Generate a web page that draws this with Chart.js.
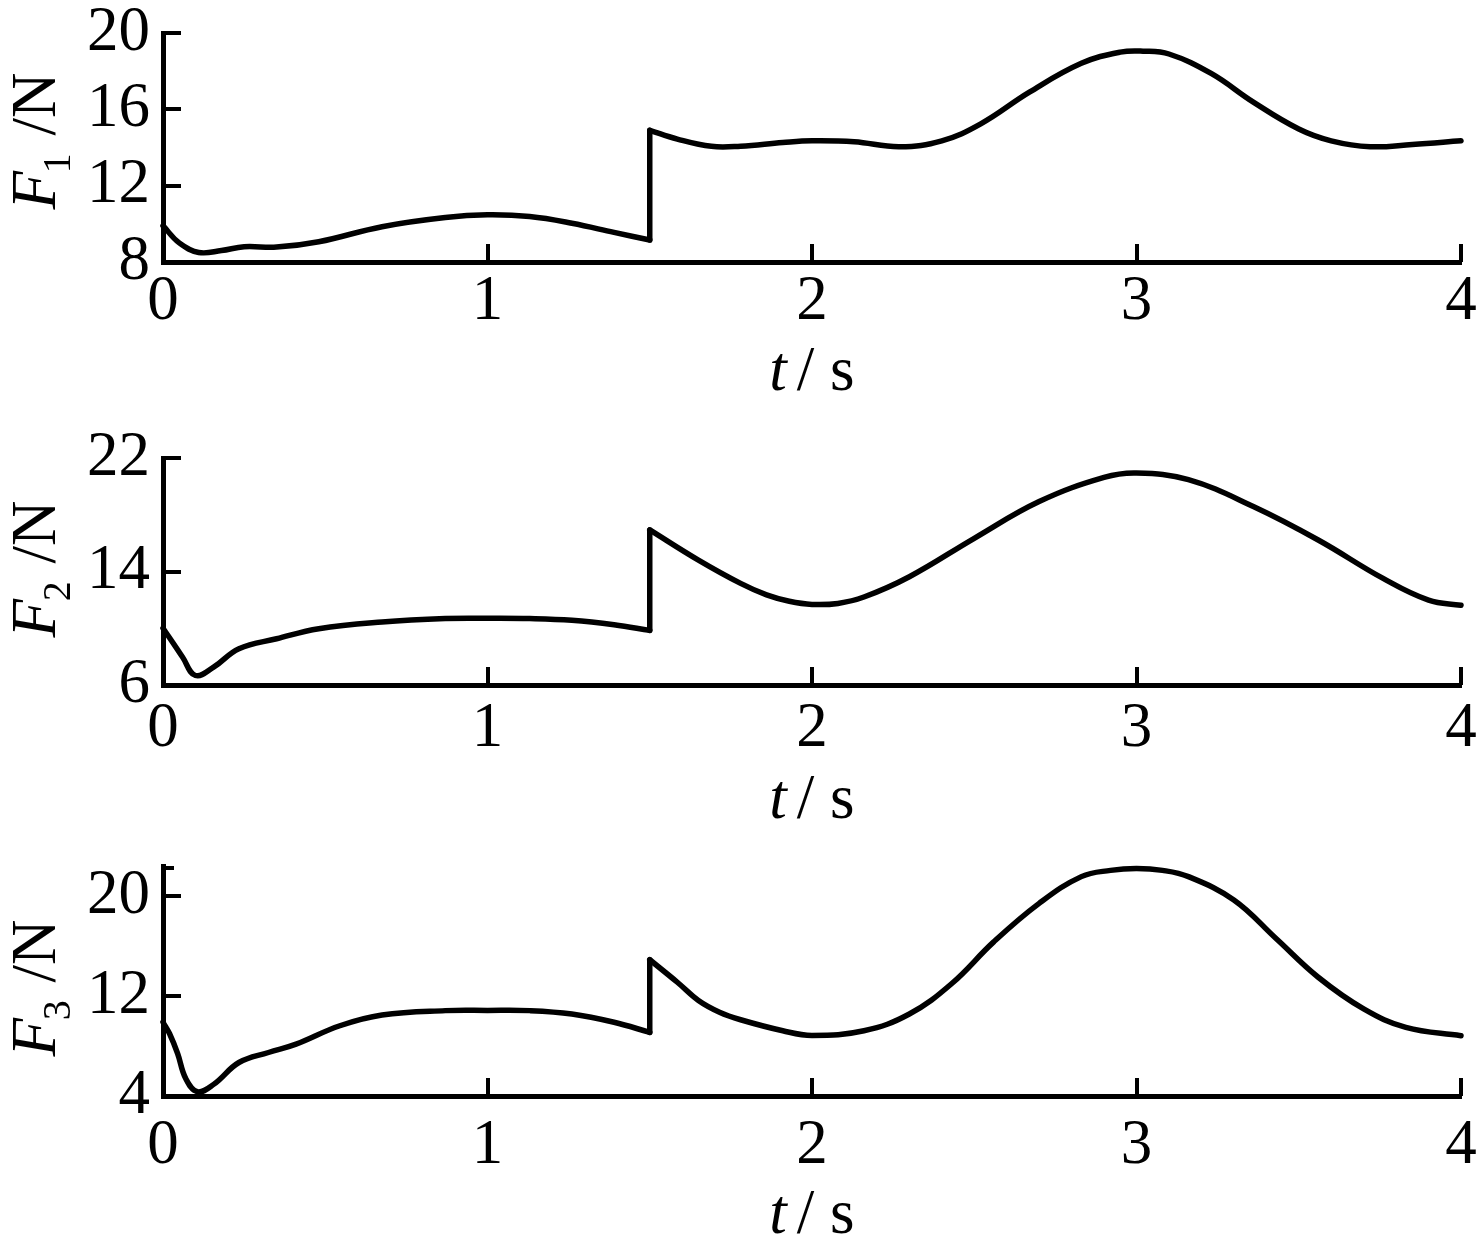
<!DOCTYPE html>
<html><head><meta charset="utf-8">
<script src="https://cdn.jsdelivr.net/npm/chart.js@4.4.1/dist/chart.umd.min.js"></script>
<style>
html,body{margin:0;padding:0;background:#fff;}
body{width:1478px;height:1255px;position:relative;overflow:hidden;}
canvas{position:absolute;left:0;}
</style></head><body>
<canvas id="c1" width="1478" height="420" style="top:0px"></canvas>
<canvas id="c2" width="1478" height="420" style="top:420px"></canvas>
<canvas id="c3" width="1478" height="415" style="top:840px"></canvas>
<script>
// ---- data ----
const xTicks = [0, 1, 2, 3, 4];

const t1Pre  = [0, 0.05, 0.11, 0.18, 0.25, 0.35, 0.48, 0.675, 0.87, 1.0, 1.13, 1.26, 1.39, 1.5];
const f1Pre  = [9.9, 9.0, 8.5, 8.6, 8.8, 8.78, 9.06, 9.85, 10.33, 10.47, 10.38, 10.03, 9.55, 9.15];
const t1Post = [1.5, 1.585, 1.69, 1.78, 1.91, 2.0, 2.13, 2.27, 2.4, 2.52, 2.67, 2.83, 2.95, 3.02, 3.1, 3.23, 3.36, 3.5, 3.6, 3.72, 3.85, 4.0];
const f1Post = [14.9, 14.44, 14.06, 14.07, 14.26, 14.35, 14.3, 14.04, 14.35, 15.24, 16.9, 18.41, 19.0, 19.05, 18.9, 17.88, 16.38, 14.97, 14.35, 14.04, 14.16, 14.35];

const t2Pre  = [0, 0.03, 0.06, 0.1, 0.156, 0.234, 0.35, 0.48, 0.675, 0.87, 1.0, 1.13, 1.26, 1.39, 1.5];
const f2Pre  = [10.0, 9.0, 7.97, 6.67, 7.26, 8.56, 9.26, 9.97, 10.44, 10.68, 10.7, 10.68, 10.56, 10.25, 9.85];
const t2Post = [1.5, 1.65, 1.78, 1.86, 1.93, 2.0, 2.08, 2.16, 2.3, 2.5, 2.7, 2.9, 3.0, 3.16, 3.36, 3.56, 3.76, 3.9, 4.0];
const f2Post = [16.93, 14.8, 13.16, 12.35, 11.9, 11.68, 11.75, 12.2, 13.63, 16.34, 18.93, 20.63, 20.94, 20.47, 18.58, 16.22, 13.51, 11.98, 11.62];

const t3Pre  = [0, 0.02, 0.045, 0.07, 0.106, 0.156, 0.234, 0.325, 0.41, 0.545, 0.675, 0.87, 1.0, 1.13, 1.26, 1.39, 1.5];
const f3Pre  = [9.9, 9.0, 7.4, 5.4, 4.34, 4.93, 6.68, 7.48, 8.15, 9.62, 10.48, 10.83, 10.85, 10.83, 10.56, 9.9, 9.09];
const t3Post = [1.5, 1.585, 1.65, 1.715, 1.78, 1.91, 2.0, 2.16, 2.3, 2.43, 2.56, 2.7, 2.83, 2.92, 3.0, 3.08, 3.16, 3.3, 3.43, 3.56, 3.7, 3.83, 4.0];
const f3Post = [14.9, 13.1, 11.64, 10.7, 10.1, 9.22, 8.85, 9.22, 10.56, 12.98, 16.33, 19.41, 21.55, 22.05, 22.2, 22.05, 21.55, 19.68, 16.6, 13.5, 10.97, 9.49, 8.82];

const yTicks1 = [8, 12, 16, 20];
const yTicks2 = [6, 14, 22];
const yTicks3 = [4, 12, 20];
const yRange1 = [8, 20];
const yRange2 = [6, 22];
const yRange3 = [4, 22.4];

const ySub = ['1', '2', '3'];
const xTitle = ['t', '/ s'];

// ---- drawing ----
const FONT = "'Liberation Serif', 'Times New Roman', serif";
const FS = 63;

function pts(t, f) { return t.map((v, i) => ({x: v, y: f[i]})); }

function makePanel(id, cfg) {
  const canvas = document.getElementById(id);
  const H = canvas.height;
  const pre = pts(cfg.tPre, cfg.fPre);
  const post = pts(cfg.tPost, cfg.fPost);
  const jump = [pre[pre.length - 1], post[0]];
  const ds = (data, smooth) => ({
    data, borderColor: '#000', borderWidth: 5.5, pointRadius: 0, fill: false,
    cubicInterpolationMode: 'default', tension: smooth ? 0.4 : 0,
    borderJoinStyle: 'round', borderCapStyle: 'round', clip: false
  });
  const deco = {
    id: 'deco' + id,
    afterDraw(chart) {
      const ctx = chart.ctx;
      const xs = chart.scales.x, ys = chart.scales.y;
      const ca = chart.chartArea;
      ctx.save();
      ctx.strokeStyle = '#000';
      ctx.lineWidth = 4;
      ctx.lineCap = 'butt';
      // inward tick marks
      xs.ticks.forEach(tk => {
        const px = Math.round(xs.getPixelForValue(tk.value));
        ctx.beginPath(); ctx.moveTo(px, ca.bottom); ctx.lineTo(px, ca.bottom - 18); ctx.stroke();
      });
      ys.ticks.forEach(tk => {
        const py = Math.round(ys.getPixelForValue(tk.value));
        ctx.beginPath(); ctx.moveTo(ca.left, py); ctx.lineTo(ca.left + 18, py); ctx.stroke();
      });
      if (cfg.topStub) {
        const py = ys.getPixelForValue(ys.max) + 2;
        ctx.beginPath(); ctx.moveTo(ca.left, py); ctx.lineTo(ca.left + 11, py); ctx.stroke();
      }
      ctx.fillStyle = '#000';
      // x title: italic t / s
      const top = cfg.canvasTop;
      ctx.textBaseline = 'alphabetic';
      ctx.textAlign = 'left';
      const fI = 'italic ' + FS + 'px ' + FONT, fN = FS + 'px ' + FONT;
      ctx.font = fI; const wT = ctx.measureText(xTitle[0]).width;
      ctx.font = fN; const wR = ctx.measureText(xTitle[1]).width;
      const gap = 10;
      const cx = xs.getPixelForValue(2);
      let sx = cx - (wT + gap + wR) / 2;
      const by = cfg.xTitleBase - top;
      ctx.font = fI; ctx.fillText(xTitle[0], sx, by);
      ctx.font = fN; ctx.fillText(xTitle[1], sx + wT + gap, by);
      // y title: F_sub /N rotated
      ctx.translate(55, cfg.yTitleCenter - top);
      ctx.rotate(-Math.PI / 2);
      const fS = '40px ' + FONT;
      ctx.font = fI; const wF = ctx.measureText('F').width;
      ctx.font = fS; const wS = ctx.measureText(cfg.sub).width;
      ctx.font = fN; const wN = ctx.measureText(' /N').width;
      const tot = wF + wS + wN;
      let s0 = -tot / 2;
      ctx.font = fI; ctx.fillText('F', s0, 0);
      ctx.font = fS; ctx.fillText(cfg.sub, s0 + wF - 2, 15);
      ctx.font = fN; ctx.fillText(' /N', s0 + wF + wS, 0);
      ctx.restore();
    }
  };
  return new Chart(canvas, {
    type: 'line',
    data: { datasets: [ds(pre, true), ds(jump, false), ds(post, true)] },
    options: {
      responsive: false, animation: false, devicePixelRatio: 1,
      layout: { padding: { left: 0, right: 17, top: cfg.chartTop - cfg.canvasTop, bottom: 0 } },
      plugins: { legend: { display: false }, tooltip: { enabled: false } },
      scales: {
        x: {
          type: 'linear', min: 0, max: 4,
          afterBuildTicks: s => { s.ticks = xTicks.map(v => ({value: v})); },
          ticks: { font: { family: FONT, size: FS }, color: '#000', padding: cfg.xPad, maxRotation: 0, autoSkip: false,
                   callback: v => String(v) },
          grid: { display: false, drawTicks: false },
          border: { display: true, color: '#000', width: 5 },
          afterFit: s => { s.height = H - (cfg.chartBottom - cfg.canvasTop); s.paddingLeft = 0; s.paddingRight = 0; }
        },
        y: {
          type: 'linear', min: cfg.yRange[0], max: cfg.yRange[1],
          afterBuildTicks: s => { s.ticks = cfg.yTicks.map(v => ({value: v})); },
          ticks: { font: { family: FONT, size: FS }, color: '#000', padding: 13, autoSkip: false,
                   callback: v => String(v) },
          grid: { display: false, drawTicks: false },
          border: { display: true, color: '#000', width: 5 },
          afterFit: s => { s.width = 163; s.paddingTop = 0; s.paddingBottom = 0; }
        }
      }
    },
    plugins: [deco]
  });
}

makePanel('c1', { canvasTop: 0, chartTop: 33, chartBottom: 262, yRange: yRange1, yTicks: yTicks1,
  tPre: t1Pre, fPre: f1Pre, tPost: t1Post, fPost: f1Post, xPad: 3, xTitleBase: 390, yTitleCenter: 141, sub: ySub[0] });
makePanel('c2', { canvasTop: 420, chartTop: 458, chartBottom: 685, yRange: yRange2, yTicks: yTicks2,
  tPre: t2Pre, fPre: f2Pre, tPost: t2Post, fPost: f2Post, xPad: 7, xTitleBase: 818, yTitleCenter: 569, sub: ySub[1] });
makePanel('c3', { canvasTop: 840, chartTop: 866, chartBottom: 1096, yRange: yRange3, yTicks: yTicks3,
  tPre: t3Pre, fPre: f3Pre, tPost: t3Post, fPost: f3Post, xPad: 13, xTitleBase: 1233, yTitleCenter: 988, sub: ySub[2], topStub: true });
</script>
</body></html>
